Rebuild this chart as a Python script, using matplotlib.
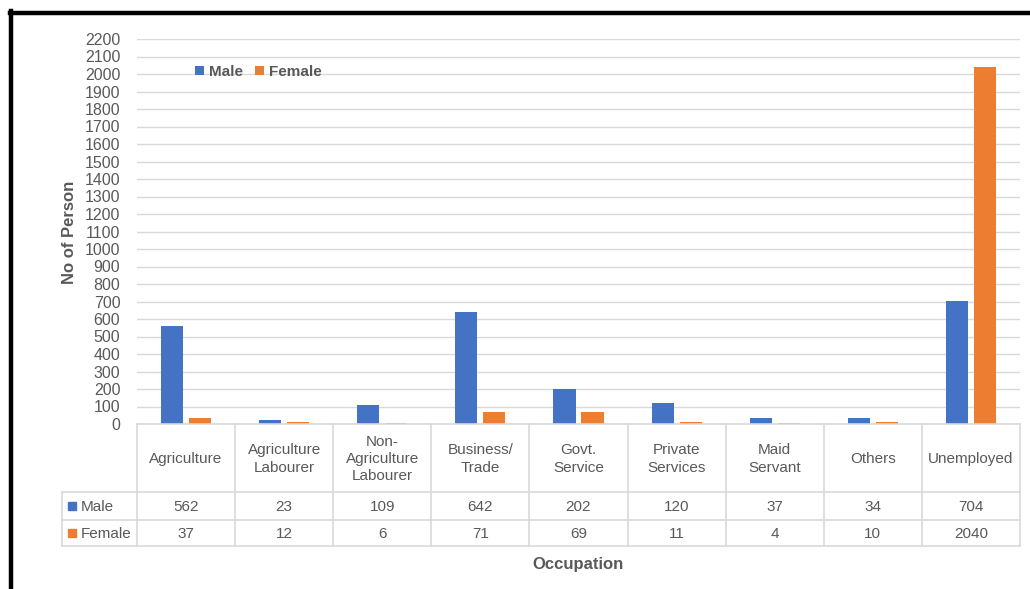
import matplotlib.pyplot as plt
import matplotlib.transforms as mtransforms
from matplotlib.lines import Line2D
from matplotlib.patches import Rectangle

# data
occupations = ["Agriculture", "Agriculture\nLabourer", "Non-\nAgriculture\nLabourer",
               "Business/\nTrade", "Govt.\nService", "Private\nServices",
               "Maid\nServant", "Others", "Unemployed"]
male = [562, 23, 109, 642, 202, 120, 37, 34, 704]
female = [37, 12, 6, 71, 69, 11, 4, 10, 2040]

blue = "#4472C4"
orange = "#ED7D31"
grid_c = "#D9D9D9"
txt_c = "#595959"

plt.rcParams["font.family"] = ["Liberation Sans", "DejaVu Sans"]

W, H = 1030, 589
fig = plt.figure(figsize=(W / 100, H / 100), dpi=100)

# pixel positions (from top-left) -> figure fraction
pix = mtransforms.Affine2D().scale(1 / W, -1 / H).translate(0, 1) + fig.transFigure

ax = fig.add_axes([137 / W, 1 - 424 / H, (1020 - 137) / W, (424 - 39) / H])
x = list(range(len(occupations)))
bw = 0.225
off = bw / 2 + 0.03
ax.bar([i - off for i in x], male, width=bw, color=blue, label="Male")
ax.bar([i + off for i in x], female, width=bw, color=orange, label="Female")

ax.set_xlim(-0.5, len(occupations) - 0.5)
ax.set_ylim(0, 2200)
ax.set_yticks(range(0, 2201, 100))
ax.set_xticks([])
ax.tick_params(axis="y", length=0, pad=12, labelsize=11.5, labelcolor=txt_c)
ax.grid(axis="y", color=grid_c, linewidth=1)
ax.set_axisbelow(True)
for s in ax.spines.values():
    s.set_visible(False)

# legend
leg = fig.legend(loc="center left", bbox_to_anchor=(195 / W, 1 - 72 / H), ncol=2,
                 frameon=False, handlelength=0.6, handleheight=0.6, handletextpad=0.3,
                 columnspacing=0.8, borderpad=0, borderaxespad=0,
                 prop={"weight": "bold", "size": 11})
for t in leg.get_texts():
    t.set_color(txt_c)

# data table under the axis
tb = mtransforms.blended_transform_factory(ax.transData, pix)
y_top, y_hdr, y_m, y_bot = 424, 492, 520, 546
lo, hi = -0.5, len(occupations) - 0.5
lkw = dict(color=grid_c, linewidth=1.2, transform=tb, clip_on=False)
ax.add_line(Line2D([lo, hi], [y_top, y_top], **lkw))
for b in range(len(occupations) + 1):
    ax.add_line(Line2D([b - 0.5, b - 0.5], [y_top, y_bot], **lkw))
for yy in (y_hdr, y_m, y_bot):
    fig.add_artist(Line2D([62, 137], [yy, yy], color=grid_c, linewidth=1.2, transform=pix))
    ax.add_line(Line2D([lo, hi], [yy, yy], **lkw))
fig.add_artist(Line2D([62, 62], [y_hdr, y_bot], color=grid_c, linewidth=1.2, transform=pix))

for i, name in enumerate(occupations):
    ax.text(i, (y_top + y_hdr) / 2 + 1, name, transform=tb, ha="center", va="center",
            fontsize=11, color=txt_c, linespacing=1.3)
    ax.text(i, (y_hdr + y_m) / 2 + 1, str(male[i]), transform=tb, ha="center",
            va="center", fontsize=11, color=txt_c)
    ax.text(i, (y_m + y_bot) / 2 + 1, str(female[i]), transform=tb, ha="center",
            va="center", fontsize=11, color=txt_c)

for name, col, yc in (("Male", blue, (y_hdr + y_m) / 2), ("Female", orange, (y_m + y_bot) / 2)):
    fig.add_artist(Rectangle((68, yc - 4), 8, 8, color=col, transform=pix))
    fig.text(81 / W, 1 - (yc + 1) / H, name, ha="left", va="center", fontsize=11, color=txt_c)

# axis titles
fig.text(578 / W, 1 - 564 / H, "Occupation", ha="center", va="center",
         fontsize=12, fontweight="bold", color=txt_c)
fig.text(69 / W, 1 - 232 / H, "No of Person", ha="center", va="center",
         rotation=90, fontsize=12, fontweight="bold", color=txt_c)

# black frame around the chart
fig.add_artist(Line2D([10, W], [12.5, 12.5], color="black", linewidth=3.2, transform=pix))
fig.add_artist(Line2D([10.5, 10.5], [11, H], color="black", linewidth=3.2, transform=pix))

fig.savefig("out.png", dpi=100)
